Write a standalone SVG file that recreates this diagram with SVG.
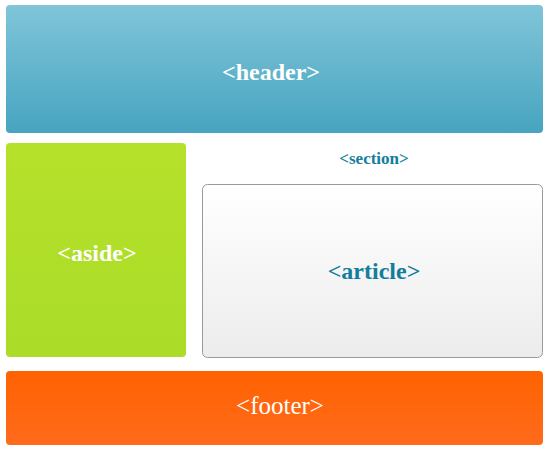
<svg xmlns="http://www.w3.org/2000/svg" width="550" height="450" viewBox="0 0 550 450">
<defs>
<linearGradient id="gHead" x1="0" y1="0" x2="0" y2="1"><stop offset="0" stop-color="#80c5d9"/><stop offset="1" stop-color="#47a4c0"/></linearGradient>
<linearGradient id="gAside" x1="0" y1="0" x2="0" y2="1"><stop offset="0" stop-color="#b6e12b"/><stop offset="1" stop-color="#aadc28"/></linearGradient>
<linearGradient id="gArt" x1="0" y1="0" x2="0" y2="1"><stop offset="0" stop-color="#ffffff"/><stop offset="1" stop-color="#ececec"/></linearGradient>
<linearGradient id="gFoot" x1="0" y1="0" x2="0" y2="1"><stop offset="0" stop-color="#ff6200"/><stop offset="1" stop-color="#ff6b1c"/></linearGradient>
<style>
text{font-family:"Liberation Serif","DejaVu Serif",serif;text-anchor:middle}
.w{fill:#ffffff;font-size:24px;font-weight:bold}
.t{fill:#137e9b;font-weight:bold}
</style>
</defs>
<g id="header"><rect x="6" y="5" width="537" height="128" rx="4" fill="url(#gHead)"/><text class="w" x="271" y="80">&lt;header&gt;</text></g>
<g id="aside"><rect x="6" y="143" width="180" height="214" rx="4" fill="url(#gAside)"/><text class="w" x="97" y="261">&lt;aside&gt;</text></g>
<g id="section"><text class="t" x="374" y="164" font-size="17">&lt;section&gt;</text></g>
<g id="article"><rect x="202.5" y="184.5" width="340" height="173" rx="5" fill="url(#gArt)" stroke="#9a9a9a" stroke-width="1"/><text class="t" x="374" y="279" font-size="24">&lt;article&gt;</text></g>
<g id="footer"><rect x="6" y="371" width="537" height="74" rx="4" fill="url(#gFoot)"/><text x="280" y="414" fill="#ffffff" font-size="25">&lt;footer&gt;</text></g>
<g id="connectors"/>
</svg>
